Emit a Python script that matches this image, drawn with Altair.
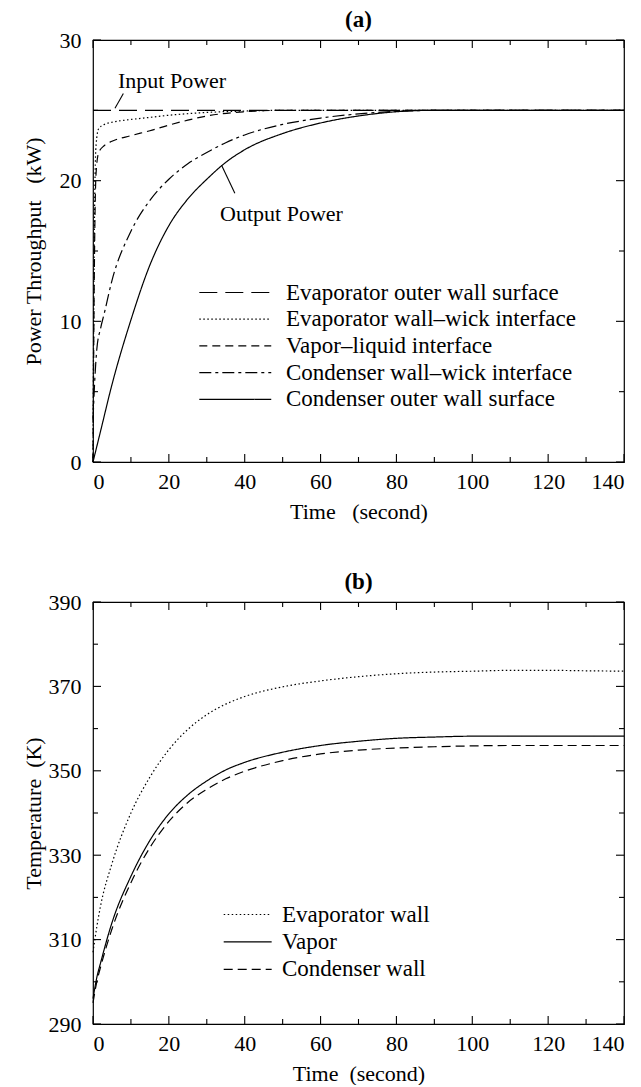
import altair as alt
import pandas as pd

FONT = "Liberation Serif"
NB = "\u00a0"

# ---------------- Panel (a) data: power throughput (kW) ----------------
a_series = [
    "Evaporator outer wall surface",
    "Evaporator wall\u2013wick interface",
    "Vapor\u2013liquid interface",
    "Condenser wall\u2013wick interface",
    "Condenser outer wall surface",
]
t_evap_outer = [0, 140]
p_evap_outer = [25, 25]

t_evap_wick = [0, 0.3, 0.8, 1.5, 3, 5, 10, 15, 20, 30, 40, 50, 140]
p_evap_wick = [0, 15, 22.5, 23.7, 24.0, 24.15, 24.35, 24.5, 24.65, 24.85, 24.95, 25, 25]

t_vapor_liq = [0, 0.3, 0.8, 1.5, 3, 5, 10, 15, 20, 25, 30, 40, 50, 140]
p_vapor_liq = [0, 12, 20.5, 22.0, 22.5, 22.8, 23.2, 23.55, 23.95, 24.3, 24.6, 24.9, 25, 25]

t_cond_wick = [0, 0.5, 1, 2, 3, 5, 10, 15, 20, 25, 30, 35, 40, 50, 60, 70, 80, 90, 140]
p_cond_wick = [3, 6, 8, 9.5, 10.6, 12.9, 16.4, 18.6, 20.1, 21.2, 22.0, 22.7, 23.25, 24.0, 24.45, 24.75, 24.93, 25, 25]

t_cond_outer = [0, 2, 5, 10, 15, 20, 25, 30, 35, 40, 50, 60, 70, 80, 90, 140]
p_cond_outer = [0, 2.2, 5.5, 10.1, 14.0, 16.8, 18.7, 20.1, 21.3, 22.2, 23.35, 24.1, 24.6, 24.9, 25, 25]

a_dashes = [[18, 8], [1.5, 2.5], [8, 5], [12, 4, 3, 4], [1, 0]]

a_x_major = [0, 20, 40, 60, 80, 100, 120, 140]
a_x_minor = [10, 30, 50, 70, 90, 110, 130]
a_y_major = [0, 10, 20, 30]
a_y_minor = [5, 15, 25]

# annotations (text label position, leader line ends) in data units
ann_text = ["Input Power", "Output Power"]
ann_t = [6.6, 33.5]
ann_v = [26.6, 17.1]
lead_t1 = [5.8, 33.9]
lead_v1 = [25.15, 21.1]
lead_t2 = [8.0, 37.4]
lead_v2 = [26.2, 19.1]

# ---------------- Panel (b) data: temperature (K) ----------------
b_series = ["Evaporator wall", "Vapor", "Condenser wall"]
t_b = [0, 1, 2, 5, 10, 15, 20, 25, 30, 35, 40, 50, 60, 70, 80, 90, 100, 110, 120, 130, 140]
T_evap = [307, 313, 318, 328, 340, 348.5, 355, 359.8, 363.3, 365.8, 367.6, 369.9, 371.3,
          372.3, 373.0, 373.4, 373.6, 373.8, 373.8, 373.7, 373.6]
T_vapor = [296, 301, 304.5, 314, 325, 333.5, 339.8, 344.3, 347.6, 350.2, 352.0, 354.4, 356.0,
           357.0, 357.7, 358.0, 358.2, 358.2, 358.2, 358.2, 358.2]
T_cond = [295, 300, 303.5, 312.5, 323.5, 331.8, 338, 342.5, 345.6, 348.1, 349.9, 352.4, 354.0,
          354.9, 355.4, 355.7, 355.9, 356.0, 356.0, 356.0, 356.0]
b_dashes = [[1.5, 2.5], [1, 0], [9, 5]]

b_x_major = [0, 20, 40, 60, 80, 100, 120, 140]
b_x_minor = [10, 30, 50, 70, 90, 110, 130]
b_y_major = [290, 310, 330, 350, 370, 390]
b_y_minor = [300, 320, 340, 360, 380]

W, H = 531, 422


def frame(pairs):
    rows = []
    for name, ts, vs in pairs:
        for t, v in zip(ts, vs):
            rows.append({"t": t, "v": v, "series": name})
    return pd.DataFrame(rows)


def make_panel(df, series, dashes, xdom, ydom, xmaj, xmin, ymaj, ymin,
               xtitle, ytitle, title, legend, extra=None):
    X = lambda f="t": alt.X(f"{f}:Q", scale=alt.Scale(domain=xdom, nice=False, zero=False),
                            axis=alt.Axis(values=xmaj, title=xtitle, ticks=False, domain=False,
                                          grid=False, format="d", labelPadding=9,
                                          titlePadding=9))
    Y = lambda f="v": alt.Y(f"{f}:Q", scale=alt.Scale(domain=ydom, nice=False, zero=False),
                            axis=alt.Axis(values=ymaj, title=ytitle, ticks=False, domain=False,
                                          grid=False, format="d", labelPadding=12,
                                          minExtent=48, maxExtent=48, titlePadding=0))
    lines = alt.Chart(df).mark_line(strokeWidth=1.2, color="black", interpolate="monotone").encode(
        x=X(), y=Y(),
        strokeDash=alt.StrokeDash("series:N", scale=alt.Scale(domain=series, range=dashes),
                                  legend=legend),
        detail="series:N",
    )
    layers = [lines]
    for vals, ln in [(xmaj, 8), (xmin, 5)]:
        d = pd.DataFrame({"t": vals})
        layers.append(alt.Chart(d).mark_rule(color="black", strokeWidth=1.1).encode(
            x=X(), y=alt.value(H), y2=alt.value(H - ln)))
        layers.append(alt.Chart(d).mark_rule(color="black", strokeWidth=1.1).encode(
            x=X(), y=alt.value(0), y2=alt.value(ln)))
    for vals, ln in [(ymaj, 8), (ymin, 5)]:
        d = pd.DataFrame({"v": vals})
        layers.append(alt.Chart(d).mark_rule(color="black", strokeWidth=1.1).encode(
            y=Y(), x=alt.value(0), x2=alt.value(ln)))
        layers.append(alt.Chart(d).mark_rule(color="black", strokeWidth=1.1).encode(
            y=Y(), x=alt.value(W), x2=alt.value(W - ln)))
    if extra is not None:
        layers += extra(X, Y)
    return alt.layer(*layers).properties(
        width=W, height=H,
        title=alt.TitleParams(title, fontSize=23, fontWeight="bold", font=FONT,
                              offset=-3, anchor="middle", color="black"),
    )


df_a = frame([
    (a_series[0], t_evap_outer, p_evap_outer),
    (a_series[1], t_evap_wick, p_evap_wick),
    (a_series[2], t_vapor_liq, p_vapor_liq),
    (a_series[3], t_cond_wick, p_cond_wick),
    (a_series[4], t_cond_outer, p_cond_outer),
])
df_b = frame([
    (b_series[0], t_b, T_evap),
    (b_series[1], t_b, T_vapor),
    (b_series[2], t_b, T_cond),
])


def annotations(X, Y):
    d = pd.DataFrame({"label": ann_text, "t": ann_t, "v": ann_v})
    lead = pd.DataFrame({"t": lead_t1, "v": lead_v1, "t2": lead_t2, "v2": lead_v2})
    txt = alt.Chart(d).mark_text(align="left", baseline="alphabetic", fontSize=22,
                                 font=FONT, color="black").encode(x=X(), y=Y(), text="label:N")
    rule = alt.Chart(lead).mark_rule(color="black", strokeWidth=1.1).encode(
        x=X(), y=Y(), x2="t2:Q", y2="v2:Q")
    return [txt, rule]


legend_a = alt.Legend(orient="none", legendX=102, legendY=241, title=None,
                      symbolType="M-1,0H9", symbolSize=207, symbolStrokeWidth=1.2,
                      symbolStrokeColor="black", labelFontSize=23, labelFont=FONT,
                      labelColor="black", labelOffset=68, rowPadding=2.7, labelLimit=500)
legend_b = alt.Legend(orient="none", legendX=124, legendY=301, title=None,
                      symbolType="M-1,0H9", symbolSize=92, symbolStrokeWidth=1.2,
                      symbolStrokeColor="black", labelFontSize=23, labelFont=FONT,
                      labelColor="black", labelOffset=42, rowPadding=3.4, labelLimit=500)

panel_a = make_panel(df_a, a_series, a_dashes, [0, 140], [0, 30], a_x_major, a_x_minor,
                     a_y_major, a_y_minor, f"Time{NB}{NB}{NB}(second)",
                     f"Power Throughput{NB}{NB}{NB}(kW)", "(a)", legend_a, annotations)
panel_b = make_panel(df_b, b_series, b_dashes, [0, 140], [290, 390], b_x_major, b_x_minor,
                     b_y_major, b_y_minor, f"Time{NB}{NB}(second)",
                     f"Temperature{NB}{NB}(K)", "(b)", legend_b)

chart = alt.vconcat(panel_a, panel_b, spacing=47, background="white").resolve_scale(
    strokeDash="independent").resolve_legend(strokeDash="independent").properties(
    padding={"left": 13, "top": 0, "right": 0, "bottom": 0}
).configure_view(stroke="black", strokeWidth=1.2).configure_axis(
    labelFont=FONT, titleFont=FONT, labelFontSize=22, titleFontSize=22,
    labelColor="black", titleColor="black", titleFontWeight="normal"
)

chart.save("out.html", embed_options={"renderer": "svg", "actions": False})
